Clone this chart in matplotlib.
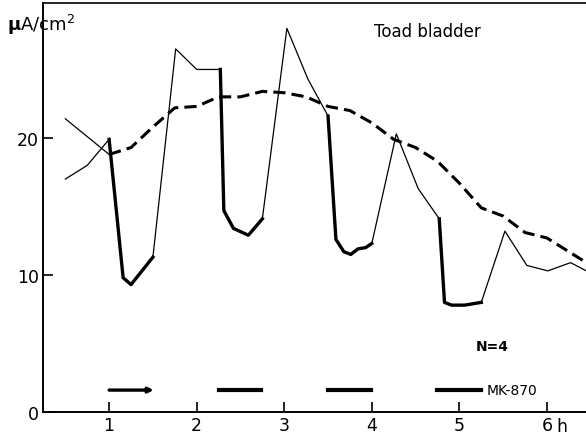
import matplotlib
matplotlib.use("Agg")
import matplotlib.pyplot as plt

# Zeit in Stunden, Kurzschlussstrom in uA/cm2
t_exp = [0.5, 0.75, 1.0, 1.16, 1.25, 1.5, 1.76, 2.0, 2.27, 2.31, 2.42, 2.59, 2.75,
         3.03, 3.27, 3.5, 3.59, 3.68, 3.76, 3.84, 3.93, 4.0, 4.28, 4.53, 4.77,
         4.83, 4.91, 5.06, 5.25, 5.52, 5.77, 6.01, 6.27, 6.45]
i_exp = [17.0, 18.0, 19.9, 9.8, 9.3, 11.3, 26.5, 25.0, 25.0, 14.7, 13.4, 12.9, 14.1,
         28.0, 24.3, 21.6, 12.6, 11.7, 11.5, 11.9, 12.0, 12.3, 20.3, 16.3, 14.1,
         8.0, 7.8, 7.8, 8.0, 13.2, 10.7, 10.3, 10.9, 10.3]

# Kontrolle: erst duenn, dann gestrichelt
t_ctl_pre = [0.5, 1.0]
i_ctl_pre = [21.4, 18.8]
t_ctl = [1.0, 1.25, 1.5, 1.75, 2.0, 2.25, 2.5, 2.75, 3.0, 3.25, 3.5, 3.75, 4.0,
         4.25, 4.5, 4.75, 5.0, 5.25, 5.5, 5.75, 6.0, 6.25, 6.5]
i_ctl = [18.8, 19.3, 20.8, 22.2, 22.3, 23.0, 23.0, 23.4, 23.3, 23.0, 22.3, 22.0, 21.1,
         19.9, 19.3, 18.3, 16.7, 14.9, 14.3, 13.1, 12.7, 11.7, 10.7]

# MK-870 Perioden
drug_start = [1.0, 2.25, 3.5, 4.75]
drug_end = [1.51, 2.74, 3.99, 5.25]

x_ticks = [1, 2, 3, 4, 5, 6]
y_ticks = [0, 10, 20]

fig = plt.figure(figsize=(5.86, 4.39), dpi=100)
ax = fig.add_axes([0.0734, 0.0592, 0.9266, 0.9317])

# duenne Linie ueberall, dicke waehrend MK-870
ax.plot(t_exp, i_exp, color="black", lw=0.9)
for s, e in zip(drug_start, drug_end):
    xs = [t for t in t_exp if s - 0.03 <= t <= e + 0.03]
    ys = [i_exp[t_exp.index(t)] for t in xs]
    ax.plot(xs, ys, color="black", lw=2.4, solid_joinstyle="round")

ax.plot(t_ctl_pre, i_ctl_pre, color="black", lw=0.9)
ax.plot(t_ctl, i_ctl, color="black", lw=2.2, dashes=(4, 2))

# Balken fuer MK-870
for k, (s, e) in enumerate(zip(drug_start, drug_end)):
    if k == 0:
        ax.annotate("", xy=(e, 1.6), xytext=(s, 1.6),
                    arrowprops=dict(arrowstyle="-|>", lw=2.4, color="black",
                                    mutation_scale=7, shrinkA=0, shrinkB=0))
    else:
        ax.plot([s, e], [1.6, 1.6], color="black", lw=3)
ax.text(5.31, 1.6, "MK-870", fontsize=10, va="center", ha="left")
ax.text(5.38, 4.8, "N=4", fontsize=10, va="center", ha="center", fontweight="bold")
ax.text(4.63, 27.8, "Toad bladder", fontsize=12, va="center", ha="center")

ax.set_xlim(0.245, 6.446)
ax.set_ylim(0, 29.85)
ax.set_xticks(x_ticks)
ax.set_xticklabels([str(t) for t in x_ticks], fontsize=12.5)
ax.set_yticks(y_ticks)
ax.set_yticklabels([str(t) for t in y_ticks], fontsize=12.5)
ax.tick_params(direction="in", length=7, width=1.2, pad=3)
ax.text(6.11, -0.4, "h", fontsize=12.5, ha="left", va="top",
        transform=ax.transData)

ax.spines["right"].set_visible(False)
for sp in ["left", "bottom"]:
    ax.spines[sp].set_linewidth(1.4)
ax.spines["top"].set_linewidth(1.2)

fig.text(0.012, 0.943, r"$\mathbf{\mu}$A/cm$^2$", fontsize=13, va="center", ha="left")

fig.savefig("out.png", dpi=100)
